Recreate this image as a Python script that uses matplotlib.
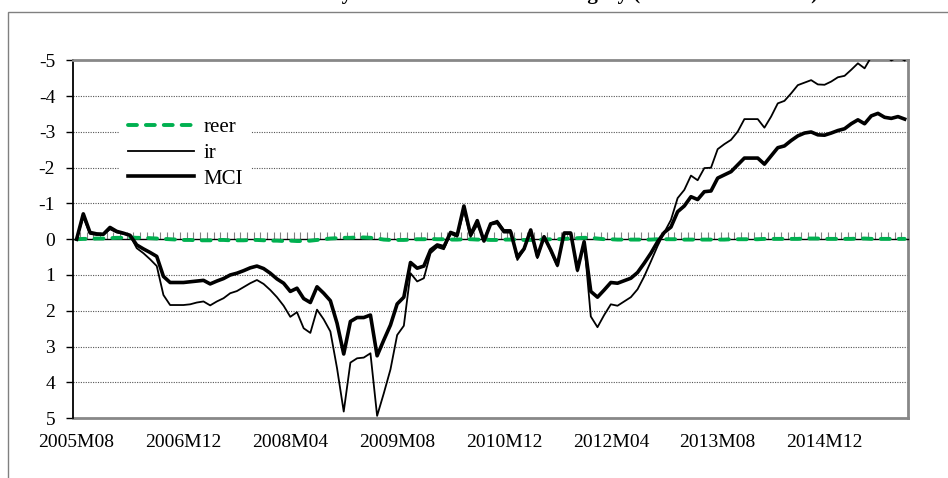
import numpy as np
import pandas as pd
import matplotlib
matplotlib.use('Agg')
import matplotlib.pyplot as plt
from matplotlib.patches import Rectangle

plt.rcParams['font.family'] = ['Liberation Serif', 'DejaVu Serif']
plt.rcParams['axes.unicode_minus'] = False

# monthly series, 2005M08 .. 2015M12
start_month = '2005-08'
label_step = 16

mci = [0.00, -0.71, -0.19, -0.15, -0.14, -0.33, -0.22, -0.17, -0.11, 0.16,
       0.27, 0.37, 0.48, 1.04, 1.21, 1.21, 1.21, 1.19, 1.17, 1.15,
       1.25, 1.17, 1.10, 1.00, 0.95, 0.88, 0.80, 0.75, 0.82, 0.95,
       1.11, 1.23, 1.46, 1.37, 1.66, 1.77, 1.33, 1.51, 1.72, 2.35,
       3.21, 2.30, 2.19, 2.19, 2.12, 3.26, 2.82, 2.40, 1.81, 1.62,
       0.65, 0.81, 0.75, 0.30, 0.16, 0.21, -0.19, -0.12, -0.93, -0.12,
       -0.52, 0.05, -0.43, -0.47, -0.21, -0.21, 0.50, 0.27, -0.26, 0.48,
       -0.07, 0.30, 0.72, -0.17, -0.17, 0.86, 0.07, 1.46, 1.62, 1.42,
       1.21, 1.23, 1.16, 1.09, 0.93, 0.67, 0.39, 0.07, -0.19, -0.34,
       -0.77, -0.93, -1.19, -1.11, -1.33, -1.35, -1.71, -1.80, -1.89, -2.08,
       -2.27, -2.27, -2.27, -2.10, -2.33, -2.56, -2.61, -2.76, -2.89, -2.97,
       -3.00, -2.92, -2.91, -2.97, -3.04, -3.09, -3.23, -3.34, -3.23, -3.45,
       -3.52, -3.41, -3.38, -3.43, -3.36]

ir = [0.00, -0.62, -0.15, -0.12, -0.12, -0.28, -0.19, -0.15, -0.11, 0.25,
      0.39, 0.56, 0.75, 1.56, 1.84, 1.84, 1.84, 1.82, 1.77, 1.74,
      1.85, 1.74, 1.65, 1.51, 1.45, 1.34, 1.23, 1.14, 1.25, 1.42,
      1.62, 1.86, 2.17, 2.04, 2.49, 2.62, 1.97, 2.24, 2.58, 3.61,
      4.82, 3.45, 3.33, 3.31, 3.19, 4.94, 4.31, 3.64, 2.68, 2.42,
      0.95, 1.18, 1.09, 0.39, 0.22, 0.28, -0.15, -0.07, -0.80, -0.07,
      -0.40, 0.00, -0.45, -0.52, -0.26, -0.26, 0.58, 0.30, -0.26, 0.53,
      -0.07, 0.34, 0.76, -0.19, -0.19, 0.90, 0.07, 2.16, 2.46, 2.12,
      1.82, 1.86, 1.74, 1.62, 1.40, 1.04, 0.62, 0.19, -0.19, -0.54,
      -1.15, -1.38, -1.78, -1.65, -1.99, -2.00, -2.52, -2.66, -2.78, -3.01,
      -3.36, -3.36, -3.36, -3.12, -3.43, -3.80, -3.87, -4.08, -4.31, -4.38,
      -4.45, -4.33, -4.32, -4.41, -4.53, -4.57, -4.74, -4.92, -4.78, -5.10,
      -5.30, -5.15, -5.00, -5.10, -5.00]

reer = [0.00, -0.01, -0.01, -0.02, -0.02, -0.03, -0.04, -0.04, -0.05, -0.04,
        -0.04, -0.03, -0.02, -0.01, 0.00, 0.01, 0.02, 0.02, 0.03, 0.03,
        0.03, 0.02, 0.02, 0.03, 0.03, 0.03, 0.02, 0.02, 0.03, 0.04,
        0.04, 0.05, 0.04, 0.05, 0.05, 0.04, 0.02, 0.00, -0.02, -0.03,
        -0.04, -0.04, -0.05, -0.05, -0.04, -0.02, 0.01, 0.02, 0.02, 0.02,
        0.01, 0.00, 0.00, -0.01, 0.00, 0.00, 0.01, 0.01, 0.00, 0.00,
        0.01, 0.01, 0.02, 0.02, 0.01, 0.01, 0.01, 0.02, 0.02, 0.01,
        0.01, 0.00, 0.00, -0.01, -0.02, -0.03, -0.04, -0.04, -0.02, 0.00,
        0.00, 0.01, 0.01, 0.01, 0.01, 0.01, 0.01, 0.00, 0.00, 0.00,
        0.00, 0.01, 0.01, 0.01, 0.01, 0.01, 0.01, 0.01, 0.00, 0.00,
        0.00, 0.00, 0.00, -0.01, -0.01, -0.01, -0.01, -0.01, -0.01, -0.02,
        -0.02, -0.02, -0.01, -0.01, -0.01, -0.01, -0.01, -0.02, -0.02, -0.01,
        -0.01, -0.01, -0.01, -0.01, -0.01]

n = len(mci)
months = pd.period_range(start_month, periods=n, freq='M')
labels = [f"{p.year}M{p.month:02d}" for p in months]
x = np.arange(n)

fig = plt.figure(figsize=(9.48, 4.78), dpi=100)
ax = fig.add_axes([0.0773, 0.1255, 0.8805, 0.748])

ax.plot(x, reer, color='#00B050', lw=2.8, dashes=(2.3, 2.3),
        dash_capstyle='round', label='reer', zorder=3)
ax.plot(x, ir, color='black', lw=1.3, label='ir', zorder=4)
ax.plot(x, mci, color='black', lw=2.6, label='MCI', zorder=5)

ax.set_xlim(-0.5, n - 0.5)
ax.set_ylim(5, -5)

# y axis
ax.set_yticks(range(-5, 6))
ax.set_yticklabels([str(v) for v in range(-5, 6)])
ax.tick_params(axis='y', direction='out', length=5, width=1, pad=8,
               labelsize=14, color='black')
for v in range(-4, 5):
    if v != 0:
        ax.axhline(v, color='#555555', lw=0.8, ls=(0, (1, 1.2)), zorder=1)

# x axis crosses at 0, monthly ticks
ax.spines['bottom'].set_position(('data', 0))
ax.spines['bottom'].set_color('black')
ax.spines['bottom'].set_linewidth(1)
ax.set_xticks(np.arange(n + 1) - 0.5)
ax.set_xticklabels([])
ax.tick_params(axis='x', direction='in', length=5, width=0.8, color='#808080')
for i in range(0, n, label_step):
    ax.text(i, -0.045, labels[i], transform=ax.get_xaxis_transform(),
            ha='center', va='top', fontsize=14)

ax.spines['left'].set_color('black')
ax.spines['left'].set_linewidth(1.3)
for s in ['top', 'right']:
    ax.spines[s].set_color('#888888')
    ax.spines[s].set_linewidth(2)
ax.axhline(5, color='#888888', lw=2, clip_on=False, zorder=2)

leg = ax.legend(loc='center left', bbox_to_anchor=(0.055, 0.741),
                fontsize=15, frameon=True, fancybox=False, framealpha=1,
                edgecolor='none', facecolor='white', handlelength=3.2,
                handletextpad=0.45, labelspacing=0.3, borderpad=0.4,
                borderaxespad=0)
leg.set_zorder(6)

# outer chart frame and (cropped) title
fig.patches.append(Rectangle((7.5 / 948, -0.1), 1.2, 1.1 - 12.3 / 478,
                             transform=fig.transFigure, fill=False,
                             edgecolor='#808080', lw=1))
fig.text(818 / 948, 1.0 + 1.5 / 478,
         'Monetary Conditions Index for Hungary (2005M08-2015M12)',
         ha='right', va='baseline', fontsize=15, fontweight='bold')

fig.savefig('out.png', dpi=100)
